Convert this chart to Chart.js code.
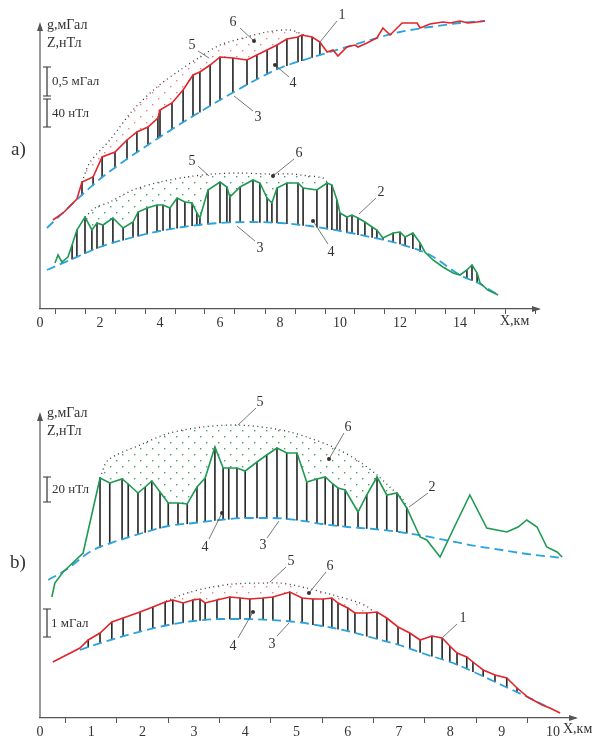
<!DOCTYPE html>
<html>
<head>
<meta charset="utf-8">
<script src="https://cdn.jsdelivr.net/npm/chart.js@4.4.0/dist/chart.umd.min.js"></script>
<style>
html, body { margin: 0; padding: 0; background: #fff; overflow: hidden; width: 595px; height: 736px; }
.panel { position: absolute; left: 0; width: 595px; }
#pa { top: 0; height: 330px; }
#pb { top: 380px; height: 358px; }
</style>
</head>
<body>
<div class="panel" id="pa"><canvas id="chartA"></canvas></div>
<div class="panel" id="pb"><canvas id="chartB"></canvas></div>
<script>
// a) profile (X, km) - gravity curve 1, magnetic curve 2
var gravAx = [0.43,0.77,1.23,1.40,1.77,2.07,2.50,2.90,3.23,3.60,3.93,4.00,4.40,4.77,5.10,5.33,5.67,6.00,6.43,6.90,7.23,7.57,7.90,8.23,8.60,8.73,9.07,9.33,9.57,9.77,9.93,10.23,10.50,10.60,10.90,11.23,11.43,11.67,12.07,12.57,12.67,13.00,13.43,13.67,14.00,14.27,14.57,14.83];
var gravAy = [89,96,110,127,132,152,157,169,177,182,191,199,206,219,234,237,244,252,251,249,254,259,264,270,272,274,272,267,257,259,253,262,264,262,266,271,281,274,286,286,281,285,287,286,288,286,287,288];
var regGravAx = [0.23,1,2,3,4,5,6,7,8,9,10,11,12,13,14,14.83];
var regGravAy = [81,103,130,152,172,191,209,226,241,251,260,269,277,282,286,288];
var envGravAx = [1.40,1.67,2.33,3.10,3.90,4.67,5.33,6.00,6.90,7.57,8.33,8.90];
var envGravAy = [127,147,169,199,222,239,252,264,272,277,279,273];

var magAx = [0.50,0.60,0.73,0.93,1.07,1.23,1.50,1.73,1.90,2.10,2.43,2.77,3.10,3.27,3.57,3.90,4.10,4.33,4.57,4.83,5.07,5.23,5.33,5.60,6.00,6.23,6.33,6.67,7.10,7.33,7.57,7.73,7.90,8.23,8.60,8.77,9.23,9.57,9.73,9.90,10.00,10.23,10.40,10.60,10.83,11.07,11.23,11.43,11.77,12.00,12.17,12.43,12.67,12.83,13.10,13.43,13.77,14.00,14.23,14.40,14.57,14.67,14.93,15.27];
var magAy = [46,54,47,52,64,79,92,79,86,84,91,81,87,97,101,104,104,101,111,107,106,96,91,119,127,122,112,122,129,126,111,106,121,126,126,121,119,126,124,109,96,92,94,91,87,82,79,71,76,77,72,76,66,57,49,42,36,34,39,44,36,26,19,14];
var regMagAx = [0.23,1,2,3,4,5,6,7,8,9,10,11,12,13,14,14.67,15.27];
var regMagAy = [39,49,62,71,78,83,86,87,86,83,78,72,65,54,34,25,14];
var envMagAx = [1.50,1.83,2.33,3.10,4.00,4.90,5.77,6.67,7.57,8.43,8.67,9.43,9.60];
var envMagAy = [92,101,107,119,127,132,135,136,135,135,134,131,126];

// b) profile
var magBx = [0.23,0.29,0.45,0.84,1.17,1.36,1.60,1.72,1.91,2.05,2.18,2.34,2.50,2.69,2.87,3.06,3.22,3.41,3.57,3.68,3.84,4.00,4.23,4.42,4.62,4.81,5.01,5.20,5.40,5.56,5.71,5.81,5.95,6.20,6.37,6.57,6.76,6.96,7.15,7.41,7.54,7.80,8.05,8.38,8.71,9.10,9.32,9.49,9.69,9.88,10.08,10.18];
var magBy = [121,135,146,165,240,235,239,234,225,231,237,226,215,215,214,231,240,271,250,250,250,247,256,263,270,265,265,236,239,241,234,230,228,206,223,241,223,225,210,181,178,161,188,223,190,186,191,198,191,171,166,161];
var regMagBx = [0.16,0.5,1,1.5,2,2.5,3,3.5,4,4.5,5,5.5,6,6.5,7,7.5,8,8.5,9,9.5,10.19];
var regMagBy = [138,148,167,177,185,192,195,198,200,200,198,194,191,189,186,182,177,172,168,164,160];
var envMagBx = [1.17,1.33,1.95,2.53,3.18,3.84,4.48,4.87,5.20,5.71,6.18,6.57,6.82,7.08,7.15];
var envMagBy = [240,258,273,285,291,293,290,286,281,271,258,243,231,218,210];

var gravBx = [0.25,0.78,0.94,1.17,1.40,1.62,1.95,2.20,2.44,2.59,2.79,2.98,3.12,3.22,3.45,3.70,3.90,4.09,4.35,4.54,4.87,5.11,5.32,5.52,5.69,5.81,6.00,6.14,6.37,6.57,6.76,6.98,7.21,7.41,7.64,7.84,7.99,8.13,8.32,8.44,8.64,8.87,9.10,9.30,9.51,9.79,9.94,10.14];
var gravBy = [56,70,78,85,96,100,106,111,116,118,115,118,119,115,118,121,120,119,120,121,126,120,119,119,120,115,110,105,105,106,100,91,85,78,82,80,72,65,61,56,48,43,40,30,21,13,10,5];
var regGravBx = [0.78,1,1.5,2,2.5,3,3.5,4,4.5,5,5.5,6,6.5,7,7.5,8,8.5,9,9.5,9.94];
var regGravBy = [68,72,80,87,93,97,99,99,98,96,92,87,80,73,64,56,45,33,21,10];
var envGravBx = [2.46,2.87,3.26,3.76,4.42,4.68,4.93,5.20,5.71,6.18,6.39,6.50];
var envGravBy = [117,125,130,134,135,135,133,130,123,116,111,106];

var RED = '#e3242b';
var GREEN = '#1f9a52';
var CYAN = '#2ba3dc';
var SERIF = '"Liberation Serif", "DejaVu Serif", serif';

function pts(xs, ys) {
	return xs.map(function(x, i) { return {x: x, y: ys[i]}; });
}

function valueAt(xs, ys, x) {
	if (x <= xs[0]) return ys[0];
	for (var i = 1; i < xs.length; i++) {
		if (x <= xs[i]) {
			var t = (x - xs[i - 1]) / (xs[i] - xs[i - 1]);
			return ys[i - 1] + t * (ys[i] - ys[i - 1]);
		}
	}
	return ys[ys.length - 1];
}

// vertical hatching (4) between observed curve and regional background
function hatch(xs, ys, rxs, rys, from, to) {
	var out = [];
	xs.forEach(function(x, i) {
		if (x < from || x > to) return;
		var base = valueAt(rxs, rys, x);
		if (ys[i] - base > 1.5) out.push({x: x, y: [base, ys[i]]});
	});
	return out;
}

function dotPattern(color) {
	var c = document.createElement('canvas');
	c.width = 12; c.height = 12;
	var g = c.getContext('2d');
	g.fillStyle = color;
	g.fillRect(2, 2, 1.4, 1.4);
	g.fillRect(8, 8, 1.4, 1.4);
	return g.createPattern(c, 'repeat');
}

function profileSets(curve, reg, env, bars, color, dots) {
	return [
		{type: 'line', data: env, borderColor: '#333', borderWidth: 1.3, borderDash: [1, 3.5], pointRadius: 0,
			fill: '+1', backgroundColor: dots, tension: 0.3, order: 2},
		{type: 'line', data: curve, borderColor: color, borderWidth: 1.6, pointRadius: 0, fill: false, order: 0},
		{type: 'line', data: reg, borderColor: CYAN, borderWidth: 1.8, borderDash: [9, 5], pointRadius: 0,
			fill: false, cubicInterpolationMode: 'monotone', order: 1},
		{type: 'bar', data: bars, backgroundColor: '#2b2b2b', barThickness: 1, grouped: false, order: 5}
	];
}

function makeOptions(xmax, pad, ymax, tickCb) {
	return {
		responsive: true,
		maintainAspectRatio: false,
		animation: false,
		layout: {padding: pad},
		plugins: {legend: {display: false}, tooltip: {enabled: false}},
		scales: {
			x: {
				type: 'linear', min: 0, max: xmax, offset: false,
				afterFit: function(s) { s.height = 20; },
				border: {display: true, color: '#555', width: 1.2},
				grid: {drawOnChartArea: false, drawTicks: true, tickLength: 5, color: '#555', lineWidth: 1},
				ticks: {stepSize: 1, includeBounds: false, autoSkip: false, maxRotation: 0, padding: 1,
					color: '#333', font: {family: SERIF, size: 14}, callback: tickCb}
			},
			y: {display: false, min: 0, max: ymax}
		}
	};
}

function makeDecor(cfg) {
	return {
		id: 'decor',
		afterDraw: function(chart) {
			var ctx = chart.ctx, a = chart.chartArea;
			ctx.save();
			ctx.strokeStyle = '#555'; ctx.fillStyle = '#555'; ctx.lineWidth = 1.2;
			// y axis with arrow
			ctx.beginPath(); ctx.moveTo(a.left, a.bottom); ctx.lineTo(a.left, cfg.yTop + 6); ctx.stroke();
			ctx.beginPath(); ctx.moveTo(a.left, cfg.yTop); ctx.lineTo(a.left - 3, cfg.yTop + 9); ctx.lineTo(a.left + 3, cfg.yTop + 9); ctx.fill();
			// x axis arrow
			ctx.beginPath(); ctx.moveTo(a.right + 3, a.bottom); ctx.lineTo(a.right - 6, a.bottom - 3); ctx.lineTo(a.right - 6, a.bottom + 3); ctx.fill();

			ctx.fillStyle = '#333';
			ctx.textBaseline = 'middle';
			ctx.textAlign = 'left';
			ctx.font = '14px ' + SERIF;
			cfg.titles.forEach(function(t) { ctx.fillText(t[0], t[1], t[2]); });
			ctx.fillText('X,км', cfg.xLabel[0], cfg.xLabel[1]);
			ctx.font = '19px ' + SERIF;
			ctx.fillText(cfg.panel[0], cfg.panel[1], cfg.panel[2]);

			// scale bars
			ctx.strokeStyle = '#333'; ctx.lineWidth = 1.2;
			cfg.bars.forEach(function(b) {
				ctx.beginPath();
				ctx.moveTo(b[0], b[1]); ctx.lineTo(b[0], b[2]);
				ctx.moveTo(b[0] - 4, b[1]); ctx.lineTo(b[0] + 4, b[1]);
				ctx.moveTo(b[0] - 4, b[2]); ctx.lineTo(b[0] + 4, b[2]);
				ctx.stroke();
			});
			ctx.font = '13px ' + SERIF;
			cfg.barText.forEach(function(t) { ctx.fillText(t[0], t[1], t[2]); });

			// numbered callouts
			ctx.font = '14px ' + SERIF;
			ctx.textAlign = 'center';
			ctx.lineWidth = 0.8; ctx.strokeStyle = '#555';
			cfg.callouts.forEach(function(c) {
				ctx.beginPath(); ctx.moveTo(c[3], c[4]); ctx.lineTo(c[5], c[6]); ctx.stroke();
				if (c[7]) { ctx.beginPath(); ctx.arc(c[5], c[6], 2, 0, 2 * Math.PI); ctx.fill(); }
				ctx.fillText(c[0], c[1], c[2]);
			});
			ctx.restore();
		}
	};
}

window.onload = function() {
	var redDots = dotPattern('rgba(232,100,100,0.8)');
	var greenDots = dotPattern('rgba(50,150,90,0.9)');

	var setsA = profileSets(pts(gravAx, gravAy), pts(regGravAx, regGravAy), pts(envGravAx, envGravAy),
		hatch(gravAx, gravAy, regGravAx, regGravAy, 1.35, 9.5), RED, redDots)
		.concat(profileSets(pts(magAx, magAy), pts(regMagAx, regMagAy), pts(envMagAx, envMagAy),
		hatch(magAx, magAy, regMagAx, regMagAy, 1.0, 14.6), GREEN, greenDots));

	var setsB = profileSets(pts(magBx, magBy), pts(regMagBx, regMagBy), pts(envMagBx, envMagBy),
		hatch(magBx, magBy, regMagBx, regMagBy, 1.0, 7.2), GREEN, greenDots)
		.concat(profileSets(pts(gravBx, gravBy), pts(regGravBx, regGravBy), pts(envGravBx, envGravBy),
		hatch(gravBx, gravBy, regGravBx, regGravBy, 0.9, 9.9), RED, redDots));

	new Chart(document.getElementById('chartA'), {
		type: 'line',
		data: {datasets: setsA},
		options: makeOptions(16.6, {left: 40, right: 57, top: 9, bottom: 1}, 300, function(v) {
			return (v % 2 === 0 && v <= 14) ? String(v) : '';
		}),
		plugins: [makeDecor({
			yTop: 22,
			titles: [['g,мГал', 47, 25], ['Z,нТл', 47, 43]],
			xLabel: [500, 321],
			panel: ['a)', 11, 150],
			bars: [[47, 67, 96], [47, 99, 127]],
			barText: [['0,5 мГал', 52, 82], ['40 нТл', 52, 114]],
			callouts: [
				['5', 192, 45, 198, 51, 209, 58, false],
				['6', 233, 22, 240, 28, 254, 41, true],
				['4', 293, 83, 289, 77, 275, 65, true],
				['3', 258, 117, 253, 111, 234, 96, false],
				['1', 342, 15, 337, 21, 320, 42, false],
				['5', 192, 161, 198, 166, 209, 176, false],
				['6', 299, 153, 294, 159, 273, 176, true],
				['3', 260, 248, 255, 241, 237, 226, false],
				['4', 331, 252, 328, 244, 313, 221, true],
				['2', 381, 192, 376, 198, 359, 214, false]
			]
		})]
	});

	new Chart(document.getElementById('chartB'), {
		type: 'line',
		data: {datasets: setsB},
		options: makeOptions(10.43, {left: 40, right: 20, top: 18, bottom: 0}, 320, function(v) {
			return v <= 10 ? String(v) : '';
		}),
		plugins: [makeDecor({
			yTop: 32,
			titles: [['g,мГал', 47, 33], ['Z,нТл', 47, 51]],
			xLabel: [563, 349],
			panel: ['b)', 10, 183],
			bars: [[47, 97, 122], [47, 229, 257]],
			barText: [['20 нТл', 52, 110], ['1 мГал', 51, 244]],
			callouts: [
				['5', 260, 22, 256, 28, 238, 45, false],
				['6', 348, 47, 344, 53, 329, 79, true],
				['2', 432, 107, 428, 113, 409, 127, false],
				['4', 205, 167, 209, 159, 222, 133, true],
				['3', 263, 165, 267, 158, 279, 141, false],
				['5', 291, 181, 286, 187, 270, 202, false],
				['6', 330, 186, 326, 192, 309, 213, true],
				['4', 233, 266, 238, 258, 253, 232, true],
				['3', 272, 264, 277, 256, 289, 243, false],
				['1', 463, 238, 457, 244, 443, 257, false]
			]
		})]
	});
};
</script>
</body>
</html>
